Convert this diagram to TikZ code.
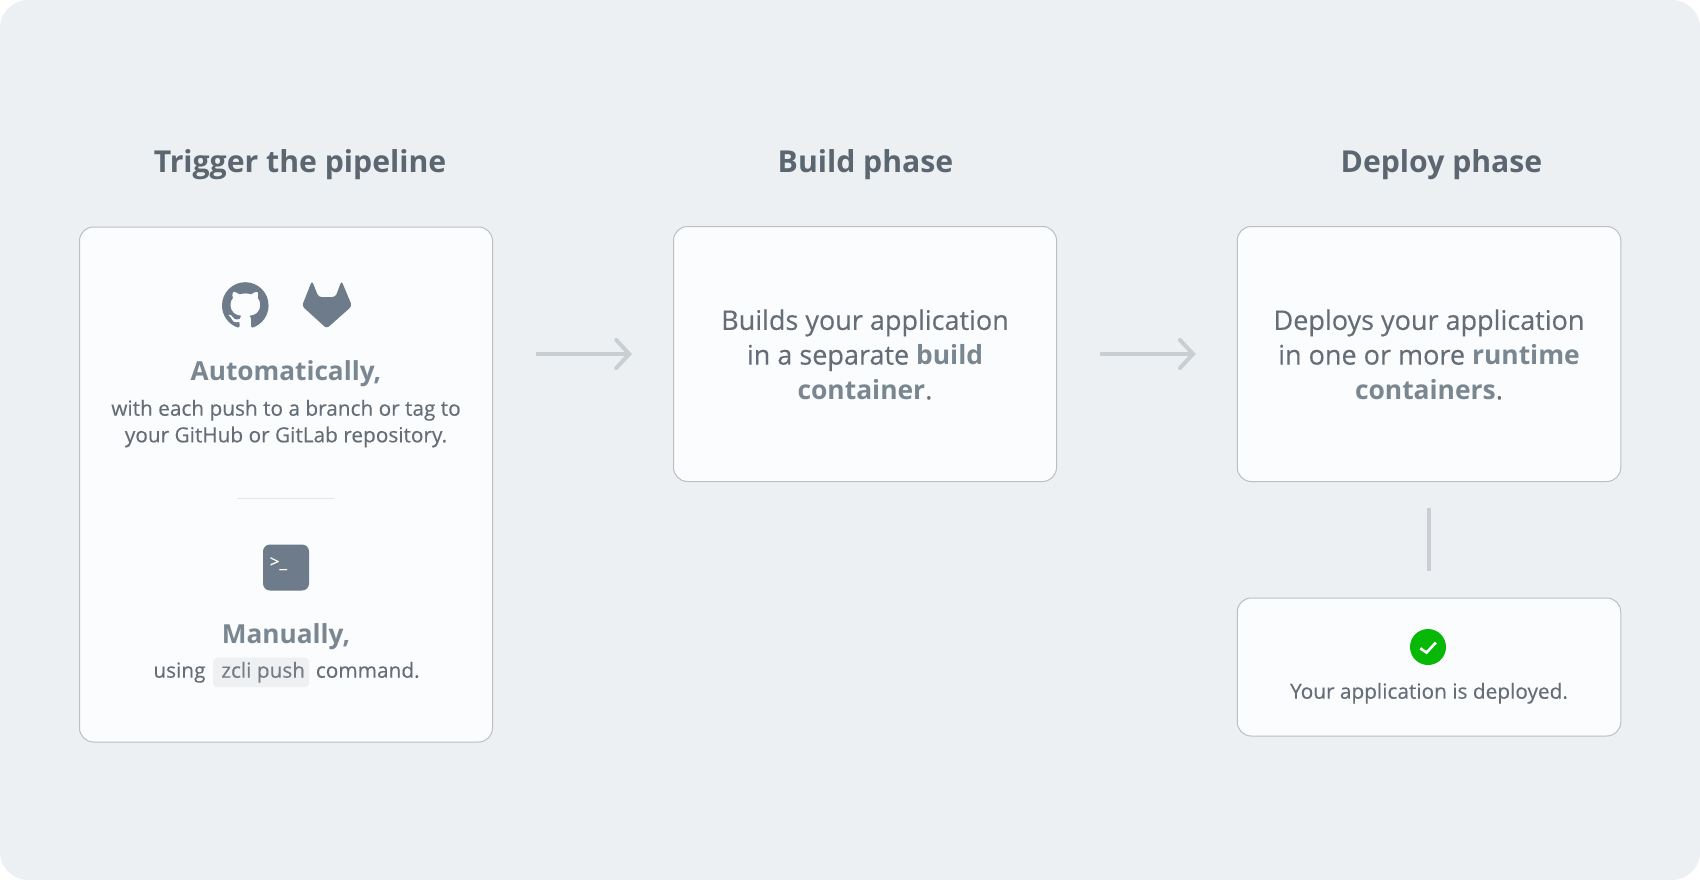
\documentclass[tikz,border=0pt]{standalone}
\usepackage{fontspec}
\setmainfont{Open Sans}[FakeBold=0.35,BoldFeatures={FakeBold=0}]
\usepackage{tikz}
\usetikzlibrary{arrows.meta,svg.path}
\definecolor{pagebg}{HTML}{EDF0F3}
\definecolor{cardbg}{HTML}{FAFCFE}
\definecolor{cardline}{HTML}{BBBFC3}
\definecolor{headcol}{HTML}{5C6670}
\definecolor{bodycol}{HTML}{656E76}
\definecolor{leadcol}{HTML}{7A8791}
\definecolor{iconcol}{HTML}{6D7B8A}
\definecolor{flowcol}{HTML}{C9CED2}
\definecolor{rulecol}{HTML}{E3E6E9}
\definecolor{pillcol}{HTML}{EEF0F2}
\definecolor{okcol}{HTML}{07B807}
\newcommand{\hiword}[1]{\textcolor{leadcol}{\fontsize{26.4}{34.7}\selectfont\bfseries #1}}

\begin{document}
\begin{tikzpicture}
        [x=1pt,y=-1pt,
        card/.style={draw=cardline,line width=1pt,fill=cardbg,rounded corners=14pt},
        body/.style={align=center,text=bodycol,font=\fontsize{27}{34.7}\selectfont},
        heading/.style={anchor=base,text=headcol,font=\fontsize{30.2}{36}\selectfont\bfseries},
        lead/.style={anchor=base,text=leadcol,font=\fontsize{26.2}{32}\selectfont\bfseries},
        small/.style={text=bodycol,font=\fontsize{20.8}{26}\selectfont},
        flow/.style={draw=flowcol,line width=4pt,-{Straight Barb[length=13pt,width=28pt,line cap=round]}},
        link/.style={draw=flowcol,line width=4pt}]

        \useasboundingbox (0,0) rectangle (1700,880);
        \fill[pagebg,rounded corners=28pt] (0,0) rectangle (1700,880);

        \node[heading] (triggerhead) at (300,172.5) {Trigger the pipeline};
        \node[heading] (buildhead) at (865.5,172) {Build phase};
        \node[heading] (deployhead) at (1441.5,172) {Deploy phase};

        \node[card,minimum width=413pt,minimum height=515pt] (trigger) at (286,484.5) {};
        \node[card,minimum width=383pt,minimum height=255pt] (build) at (865,354) {};
        \node[card,minimum width=383.5pt,minimum height=255pt] (deploy) at (1429,354) {};
        \node[card,minimum width=383.5pt,minimum height=138pt] (done) at (1429,667) {};

        \node[body] (buildtext) at (865,354.5) {Builds your application\\in a separate \hiword{build}\\\hiword{container}.};
        \node[body] (deploytext) at (1429,354.5) {Deploys your application\\in one or more \hiword{runtime}\\\hiword{containers}.};

        \draw[flow,shorten <=42.5pt,shorten >=41pt] (trigger.east |- build.west) -- (build.west);
        \draw[flow,shorten <=43pt,shorten >=41pt] (build.east) -- (deploy.west);
        \draw[link,shorten <=25.7pt,shorten >=26.3pt] (deploy.south) -- (done.north);

        % github mark
        \begin{scope}[shift={(222,282.2)},xscale=2.91,yscale=-2.91]
          \fill[iconcol] svg {M 8 0 C 3.58 0 0 3.58 0 8 c 0 3.54 2.29 6.53 5.47 7.59 c 0.4 0.07 0.55 -0.17 0.55 -0.38 c 0 -0.19 -0.01 -0.82 -0.01 -1.49 c -2.01 0.37 -2.53 -0.49 -2.69 -0.94 c -0.09 -0.23 -0.48 -0.94 -0.82 -1.13 c -0.28 -0.15 -0.68 -0.52 -0.01 -0.53 c 0.63 -0.01 1.08 0.58 1.23 0.82 c 0.72 1.21 1.87 0.87 2.33 0.66 c 0.07 -0.52 0.28 -0.87 0.51 -1.07 c -1.78 -0.2 -3.64 -0.89 -3.64 -3.95 c 0 -0.87 0.31 -1.59 0.82 -2.15 c -0.08 -0.2 -0.36 -1.02 0.08 -2.12 c 0 0 0.67 -0.21 2.2 0.82 c 0.64 -0.18 1.32 -0.27 2 -0.27 c 0.68 0 1.36 0.09 2 0.27 c 1.53 -1.04 2.2 -0.82 2.2 -0.82 c 0.44 1.1 0.16 1.92 0.08 2.12 c 0.51 0.56 0.82 1.27 0.82 2.15 c 0 3.07 -1.87 3.75 -3.65 3.95 c 0.29 0.25 0.54 0.73 0.54 1.48 c 0 1.07 -0.01 1.93 -0.01 2.2 c 0 0.21 0.15 0.46 0.55 0.38 C 13.71 14.53 16 11.53 16 8 c 0 -4.42 -3.58 -8 -8 -8 z};
        \end{scope}

        % gitlab mark
        \fill[iconcol,rounded corners=3pt] (312,280.8) -- (318.5,297) -- (335.5,297) -- (341.5,280.8)
          -- (352,306) -- (326.7,328.5) -- (302,306) -- cycle;

        \node[lead] (autolead) at (286,380.5) {Automatically,};
        \node[small,anchor=base] (auto1) at (286,415.7) {with each push to a branch or tag to};
        \node[small,anchor=base] (auto2) at (286,442.3) {your GitHub or GitLab repository.};

        \draw[rulecol,line width=1.5pt] (237.3,498.5) -- (334,498.5);

        % terminal icon
        \fill[iconcol,rounded corners=7pt] (263,544.5) rectangle (309,590.5);
        \node[text=white,inner sep=0,anchor=base west,font=\fontsize{17}{20}\selectfont] (prompt) at (269.5,567.5) {>\_};

        \node[lead] (manuallead) at (286,643) {Manually,};
        \node[small,anchor=base east,inner sep=0] (using) at (205.7,677.7) {using};
        \node[small,anchor=base,inner sep=0,fill=pillcol,rounded corners=4pt,minimum width=96pt,
          text height=20pt,text depth=9.5pt,text=bodycol!90!white] (zcli) at (261,677.7) {\hspace*{4.4pt}zcli push};
        \node[small,anchor=base west,inner sep=0] (command) at (315.7,677.7) {command.};

        % check icon
        \node[circle,fill=okcol,inner sep=0,minimum size=36pt] (okdot) at (1428,647) {};
        \draw[white,line width=2.6pt] (1420.3,648.3) -- (1426.5,652.6) -- (1435.8,642.6);
        \node[small,anchor=base] (donetext) at (1429,698.7) {Your application is deployed.};
      \end{tikzpicture}
\end{document}
